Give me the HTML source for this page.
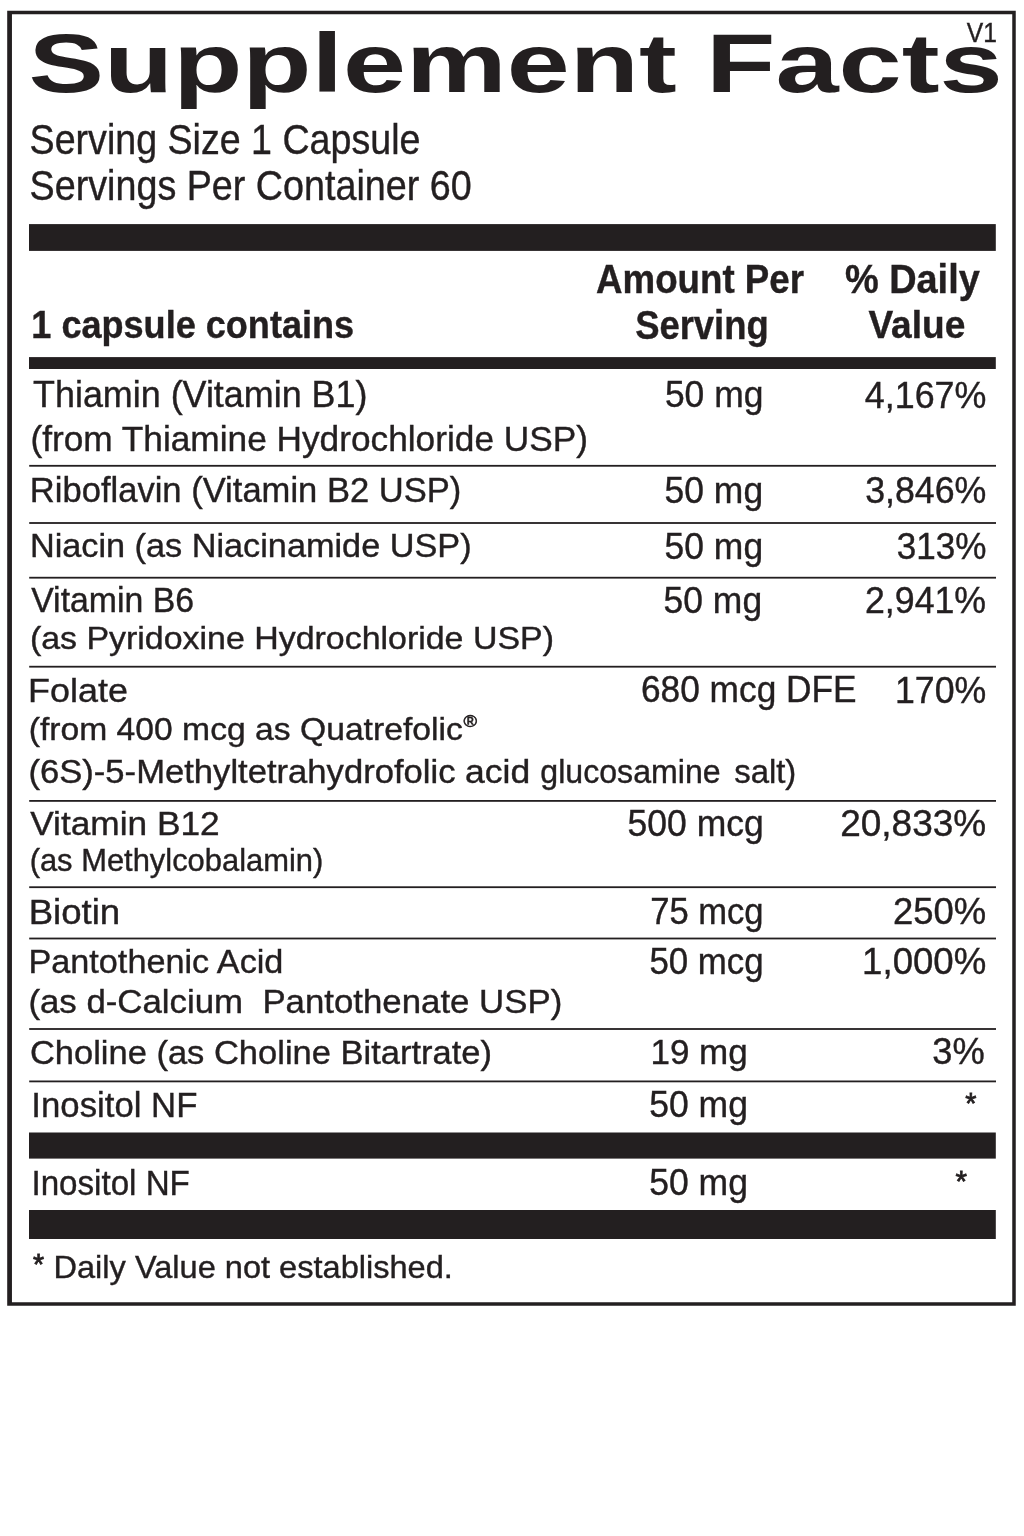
<!DOCTYPE html>
<html lang="en">
<head>
<meta charset="utf-8">
<title>Supplement Facts</title>
<style>
html,body{margin:0;padding:0;background:#fff;}
body{width:1024px;height:1536px;position:relative;overflow:hidden;font-family:"Liberation Sans", Arial, Helvetica, sans-serif;color:#231f20;}
.art{position:absolute;left:0;top:0;display:block;}
.t{position:absolute;left:0;top:0;white-space:pre;transform-origin:0 0;margin:0;padding:0;-webkit-text-stroke:0.4px #231f20;}
.b{font-weight:bold;}
.h1{-webkit-text-stroke-width:0;}
.a{-webkit-text-stroke-width:0.8px;}
.r{-webkit-text-stroke-width:0.6px;}
</style>
</head>
<body>
<svg class="art" width="1024" height="1536" viewBox="0 0 1024 1536" aria-hidden="true">
<path fill="#231f20" fill-rule="evenodd" d="M7.2 10.7H1015.75V1305.65H7.2ZM11.95 14.15H1012.25V1302.25H11.95Z"/>
<rect fill="#231f20" x="29" y="224.1" width="966.8" height="26.8"/>
<rect fill="#231f20" x="29" y="357.1" width="966.8" height="11.9"/>
<rect fill="#231f20" x="29" y="1132.5" width="966.8" height="26.1"/>
<rect fill="#231f20" x="29" y="1210" width="966.8" height="29"/>
<rect fill="#231f20" x="29.2" y="464.9" width="966.8" height="1.8"/>
<rect fill="#231f20" x="29.2" y="522.1" width="966.8" height="1.8"/>
<rect fill="#231f20" x="29.2" y="576.8" width="966.8" height="1.8"/>
<rect fill="#231f20" x="29.2" y="665.8" width="966.8" height="1.8"/>
<rect fill="#231f20" x="29.2" y="800" width="966.8" height="1.8"/>
<rect fill="#231f20" x="29.2" y="886.3" width="966.8" height="1.8"/>
<rect fill="#231f20" x="29.2" y="937.6" width="966.8" height="1.8"/>
<rect fill="#231f20" x="29.2" y="1028.1" width="966.8" height="1.8"/>
<rect fill="#231f20" x="29.2" y="1080.5" width="966.8" height="1.8"/>
</svg>
<div class="t b h1" style="font-size:82.5px;line-height:107px;transform:translate(28.38px,10.00px) scaleX(1.3733)">Supplement</div>
<div class="t b h1" style="font-size:82.5px;line-height:107px;transform:translate(706.06px,10.00px) scaleX(1.3768)">Facts</div>
<div class="t" style="font-size:27.3px;line-height:35px;transform:translate(966.86px,15.10px) scaleX(0.9023)">V1</div>
<div class="t" style="font-size:42.7px;line-height:56px;transform:translate(29.58px,111.00px) scaleX(0.8808)">Serving Size 1 Capsule</div>
<div class="t" style="font-size:41.6px;line-height:54px;transform:translate(29.54px,158.75px) scaleX(0.9065)">Servings Per Container 60</div>
<div class="t b" style="font-size:38.9px;line-height:51px;transform:translate(31.32px,298.90px) scaleX(0.9275)">1 capsule contains</div>
<div class="t b" style="font-size:39.8px;line-height:52px;transform:translate(596.08px,252.75px) scaleX(0.9217)">Amount Per</div>
<div class="t b" style="font-size:40px;line-height:52px;transform:translate(635.15px,299.00px) scaleX(0.9097)">Serving</div>
<div class="t b" style="font-size:39.8px;line-height:52px;transform:translate(844.91px,253.10px) scaleX(0.9527)">% Daily</div>
<div class="t b" style="font-size:39.6px;line-height:51px;transform:translate(868.42px,299.30px) scaleX(0.9364)">Value</div>
<div class="t" style="font-size:36.2px;line-height:47px;transform:translate(33.05px,371.25px) scaleX(0.9916)">Thiamin (Vitamin B1)</div>
<div class="t" style="font-size:35.4px;line-height:46px;transform:translate(30.40px,415.60px) scaleX(0.9959)">(from Thiamine Hydrochloride USP)</div>
<div class="t" style="font-size:36.2px;line-height:47px;transform:translate(664.92px,371.30px) scaleX(0.9786)">50 mg</div>
<div class="t" style="font-size:36.6px;line-height:48px;transform:translate(864.85px,371.60px) scaleX(0.9791)">4,167%</div>
<div class="t" style="font-size:35px;line-height:46px;transform:translate(29.85px,467.10px) scaleX(0.9873)">Riboflavin (Vitamin B2 USP)</div>
<div class="t" style="font-size:36.2px;line-height:47px;transform:translate(664.62px,467.20px) scaleX(0.9790)">50 mg</div>
<div class="t" style="font-size:36.6px;line-height:48px;transform:translate(865.18px,467.40px) scaleX(0.9771)">3,846%</div>
<div class="t" style="font-size:33.6px;line-height:44px;transform:translate(29.91px,523.90px) scaleX(1.0201)">Niacin (as Niacinamide USP)</div>
<div class="t" style="font-size:36.2px;line-height:47px;transform:translate(664.62px,522.50px) scaleX(0.9790)">50 mg</div>
<div class="t" style="font-size:36.6px;line-height:48px;transform:translate(896.64px,522.90px) scaleX(0.9592)">313%</div>
<div class="t" style="font-size:34.2px;line-height:44px;transform:translate(31.19px,578.00px) scaleX(0.9886)">Vitamin B6</div>
<div class="t" style="font-size:36.2px;line-height:47px;transform:translate(663.62px,576.80px) scaleX(0.9790)">50 mg</div>
<div class="t" style="font-size:36.6px;line-height:48px;transform:translate(865.01px,576.60px) scaleX(0.9761)">2,941%</div>
<div class="t" style="font-size:31.4px;line-height:41px;transform:translate(29.91px,617.75px) scaleX(1.0805)">(as Pyridoxine Hydrochloride USP)</div>
<div class="t" style="font-size:33.9px;line-height:44px;transform:translate(28.09px,668.00px) scaleX(1.0593)">Folate</div>
<div class="t" style="font-size:36.2px;line-height:47px;transform:translate(640.95px,666.30px) scaleX(0.9749)">680 mcg DFE</div>
<div class="t" style="font-size:36.6px;line-height:48px;transform:translate(894.96px,666.50px) scaleX(0.9758)">170%</div>
<div class="t" style="font-size:31.5px;line-height:41px;transform:translate(28.71px,709.00px) scaleX(1.0687)">(from 400 mcg as Quatrefolic</div>
<div class="t r" style="font-size:16.5px;line-height:21px;transform:translate(463.52px,711.20px) scaleX(1.1149)">&reg;</div>
<div class="t" style="font-size:32.3px;line-height:42px;transform:translate(28.46px,751.40px) scaleX(1.0717)">(6S)-5-Methyltetrahydrofolic</div>
<div class="t" style="font-size:32.3px;line-height:42px;transform:translate(465.08px,751.40px) scaleX(1.1001)">acid</div>
<div class="t" style="font-size:32.3px;line-height:42px;transform:translate(540.37px,751.40px) scaleX(0.9941)">glucosamine</div>
<div class="t" style="font-size:32.3px;line-height:42px;transform:translate(734.19px,751.40px) scaleX(1.0182)">salt)</div>
<div class="t" style="font-size:33.7px;line-height:44px;transform:translate(30.22px,800.75px) scaleX(1.0464)">Vitamin B12</div>
<div class="t" style="font-size:36.2px;line-height:47px;transform:translate(627.60px,799.60px) scaleX(0.9804)">500 mcg</div>
<div class="t" style="font-size:36.6px;line-height:48px;transform:translate(840.17px,799.70px) scaleX(1.0113)">20,833%</div>
<div class="t" style="font-size:30.7px;line-height:40px;transform:translate(29.65px,840.60px) scaleX(1.0068)">(as Methylcobalamin)</div>
<div class="t" style="font-size:34.4px;line-height:45px;transform:translate(28.63px,889.50px) scaleX(1.0640)">Biotin</div>
<div class="t" style="font-size:36px;line-height:47px;transform:translate(650.14px,888.40px) scaleX(0.9610)">75 mcg</div>
<div class="t" style="font-size:36.4px;line-height:47px;transform:translate(892.91px,888.40px) scaleX(1.0017)">250%</div>
<div class="t" style="font-size:34px;line-height:44px;transform:translate(28.42px,939.25px) scaleX(1.0067)">Pantothenic Acid</div>
<div class="t" style="font-size:36.2px;line-height:47px;transform:translate(649.41px,937.90px) scaleX(0.9627)">50 mcg</div>
<div class="t" style="font-size:36.6px;line-height:48px;transform:translate(862.12px,937.90px) scaleX(1.0006)">1,000%</div>
<div class="t" style="font-size:33px;line-height:43px;transform:translate(28.41px,979.50px) scaleX(1.0545)">(as d-Calcium&nbsp; Pantothenate USP)</div>
<div class="t" style="font-size:33.8px;line-height:44px;transform:translate(29.90px,1029.75px) scaleX(1.0206)">Choline (as Choline Bitartrate)</div>
<div class="t" style="font-size:35.9px;line-height:47px;transform:translate(650.44px,1028.80px) scaleX(0.9757)">19 mg</div>
<div class="t" style="font-size:36.3px;line-height:47px;transform:translate(932.30px,1027.80px) scaleX(0.9991)">3%</div>
<div class="t" style="font-size:35.5px;line-height:46px;transform:translate(31.34px,1081.60px) scaleX(0.9788)">Inositol NF</div>
<div class="t" style="font-size:36px;line-height:47px;transform:translate(649.21px,1081.00px) scaleX(0.9861)">50 mg</div>
<div class="t a" style="font-size:30px;line-height:39px;transform:translate(965.25px,1083.00px) scaleX(0.9586)">*</div>
<div class="t" style="font-size:34.6px;line-height:45px;transform:translate(31.46px,1161.10px) scaleX(0.9585)">Inositol NF</div>
<div class="t" style="font-size:36px;line-height:47px;transform:translate(649.21px,1159.00px) scaleX(0.9861)">50 mg</div>
<div class="t a" style="font-size:30px;line-height:39px;transform:translate(955.45px,1160.70px) scaleX(0.9850)">*</div>
<div class="t a" style="font-size:30px;line-height:39px;transform:translate(33.09px,1244.10px) scaleX(0.9490)">*</div>
<div class="t" style="font-size:32.2px;line-height:42px;transform:translate(53.48px,1246.00px) scaleX(1.0115)">Daily Value not established.</div>
</body>
</html>
